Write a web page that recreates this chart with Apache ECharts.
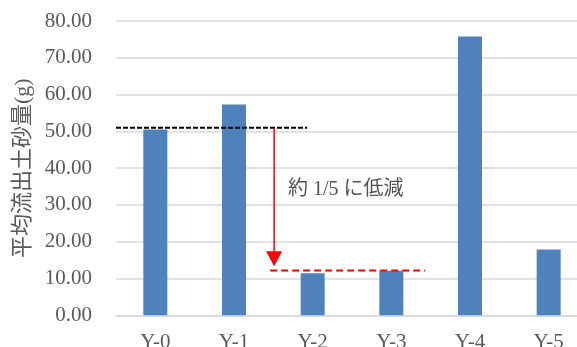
<!DOCTYPE html>
<html>
<head>
<meta charset="utf-8">
<script src="https://cdn.jsdelivr.net/npm/echarts@6/dist/echarts.min.js"></script>
<style>
  html, body { margin: 0; padding: 0; background: #fff; }
  #chart { width: 577px; height: 347px; }
</style>
</head>
<body>
<div id="chart"></div>
<script>
// Average sediment outflow per year
const categories = ['Y-0', 'Y-1', 'Y-2', 'Y-3', 'Y-4', 'Y-5'];
const sediment = [50.5, 57.3, 11.4, 12.1, 75.8, 17.9];
const yTicks = { min: 0, max: 80, interval: 10 };

// Reference levels: before (black) and after (red) reduction
const beforeLevel = [[0, 51.0], [2.43, 51.0]];
const afterLevel = [[1.96, 12.2], [3.93, 12.2]];
const arrowPath = [[2.01, 51.0], [2.01, 15.4]];
const noteText = '約 1/5 に低減';
const notePos = [[2.92, 34.2]];

const serif = '"Liberation Serif", "Times New Roman", "Noto Sans CJK JP", serif';

const chart = echarts.init(document.getElementById('chart'));
chart.setOption({
  animation: false,
  grid: {
    left: 116, top: 21, width: 472, height: 294.3,
    containLabel: false,
    outerBoundsMode: 'none'
  },
  xAxis: [
    {
      type: 'category',
      data: categories,
      axisLine: { lineStyle: { color: '#d9d9d9', width: 1.5 } },
      axisTick: { show: false },
      axisLabel: { color: '#595959', fontFamily: serif, fontSize: 21, margin: 17 }
    },
    {
      type: 'value', min: 0, max: 6, show: false
    }
  ],
  yAxis: {
    type: 'value',
    min: yTicks.min, max: yTicks.max, interval: yTicks.interval,
    name: '平均流出土砂量(g)',
    nameLocation: 'middle',
    nameGap: 75,
    nameTextStyle: { color: '#595959', fontFamily: serif, fontSize: 22 },
    axisLine: { show: false },
    axisTick: { show: false },
    splitLine: { lineStyle: { color: '#d9d9d9', width: 1.5 } },
    axisLabel: {
      color: '#595959', fontFamily: serif, fontSize: 21, margin: 24,
      formatter: v => v.toFixed(2)
    }
  },
  series: [
    {
      type: 'bar',
      data: sediment,
      barWidth: 24,
      itemStyle: { color: '#4f81bd' }
    },
    {
      type: 'line',
      xAxisIndex: 1,
      data: beforeLevel,
      symbol: 'none',
      lineStyle: { color: '#000', width: 2, type: [5, 2] },
      z: 5
    },
    {
      type: 'line',
      xAxisIndex: 1,
      data: afterLevel,
      symbol: 'none',
      lineStyle: { color: '#ff0000', width: 2, type: [7, 4] },
      z: 5
    },
    {
      type: 'line',
      xAxisIndex: 1,
      data: arrowPath.map((p, i) => ({
        value: p,
        symbol: i === arrowPath.length - 1 ? 'triangle' : 'none',
        symbolSize: [16, 15],
        symbolRotate: 180
      })),
      lineStyle: { color: '#ff0000', width: 1.5 },
      itemStyle: { color: '#ff0000' },
      z: 6
    },
    {
      type: 'scatter',
      xAxisIndex: 1,
      data: notePos,
      symbolSize: 0,
      label: {
        show: true,
        position: 'inside',
        formatter: noteText,
        color: '#262626',
        fontFamily: serif,
        fontSize: 20
      },
      silent: true
    }
  ]
});
</script>
</body>
</html>
